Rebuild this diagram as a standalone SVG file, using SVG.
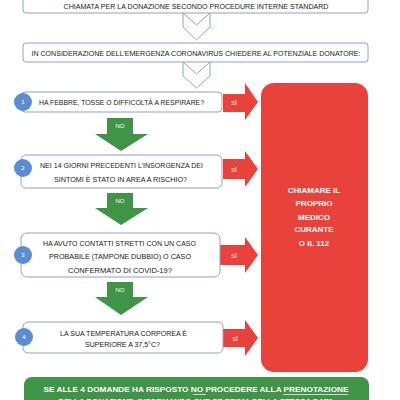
<svg xmlns="http://www.w3.org/2000/svg" width="400" height="400" viewBox="0 0 400 400">
<defs>
<style>
.box{fill:#fff;stroke:#8fa2c4;stroke-width:1}
.chev{fill:#fff;stroke:#8fa2c4;stroke-width:1}
.t{font-family:"Liberation Sans",Arial,sans-serif;font-size:7.5px;fill:#222;text-anchor:middle}
.w{font-family:"Liberation Sans",Arial,sans-serif;font-size:6px;fill:#fff;text-anchor:middle}
.wb{font-family:"Liberation Sans",Arial,sans-serif;font-size:8px;font-weight:bold;fill:#fff;text-anchor:middle}
.num{fill:#5b8ed0}
.red{fill:#e8423a}
.grn{fill:#3f9447}
</style>
</defs>
<rect width="400" height="400" fill="#fff"/>
<g id="connectors">
<polygon class="chev" points="183,13 196.5,25 210,13 210,27 196.5,40 183,27"/>
<polygon class="chev" points="183,62 196.5,74 210,62 210,76 196.5,88 183,76"/>
<polygon class="red" points="223,94 245,94 245,83 258,102 245,120 245,112 223,112"/>
<text class="w" x="234" y="105">SÌ</text>
<polygon class="red" points="223,159 245,159 245,151 258,169 245,187 245,179 223,179"/>
<text class="w" x="234" y="172">SÌ</text>
<polygon class="red" points="220,245 245,245 245,237 258,255 245,273 245,265 220,265"/>
<text class="w" x="234" y="258">SÌ</text>
<polygon class="red" points="223,329 245,329 245,320 258,338 245,356 245,347 223,347"/>
<text class="w" x="235" y="341">SÌ</text>
<polygon class="grn" points="107,118 133,118 133,134 148,134 121,151 95,134 107,134"/>
<text class="w" x="120" y="128">NO</text>
<polygon class="grn" points="107,193 133,193 133,208 148,208 121,225 95,208 107,208"/>
<text class="w" x="120" y="203">NO</text>
<polygon class="grn" points="107,282 133,282 133,297 148,297 121,315 95,297 107,297"/>
<text class="w" x="120" y="292">NO</text>
</g>
<g id="n_top">
<rect class="box" x="23" y="-10" width="345" height="23" rx="3"/>
<text class="t" x="196" y="8.5" textLength="265" lengthAdjust="spacingAndGlyphs">CHIAMATA PER LA DONAZIONE SECONDO PROCEDURE INTERNE STANDARD</text>
</g>
<g id="n_consider">
<rect class="box" x="23" y="43" width="345" height="19" rx="3"/>
<text class="t" x="196" y="55.5" textLength="329" lengthAdjust="spacingAndGlyphs">IN CONSIDERAZIONE DELL’EMERGENZA CORONAVIRUS CHIEDERE AL POTENZIALE DONATORE:</text>
</g>
<g id="q1">
<rect class="box" x="21" y="92" width="201" height="20" rx="4"/>
<circle class="num" cx="23" cy="102" r="9"/>
<text class="w" x="23" y="104">1</text>
<text class="t" x="121.5" y="104.5" textLength="165" lengthAdjust="spacingAndGlyphs">HA FEBBRE, TOSSE O DIFFICOLTÀ A RESPIRARE?</text>
</g>
<g id="q2">
<rect class="box" x="21" y="155" width="201" height="33" rx="5"/>
<circle class="num" cx="23" cy="168" r="9"/>
<text class="w" x="23" y="170">2</text>
<text class="t" x="121.5" y="167.5" textLength="163" lengthAdjust="spacingAndGlyphs">NEI 14 GIORNI PRECEDENTI L’INSORGENZA DEI</text>
<text class="t" x="120.5" y="181.5" textLength="133" lengthAdjust="spacingAndGlyphs">SINTOMI È STATO IN AREA A RISCHIO?</text>
</g>
<g id="q3">
<rect class="box" x="21" y="233" width="199" height="44" rx="6"/>
<circle class="num" cx="23" cy="255" r="9"/>
<text class="w" x="23" y="257">3</text>
<text class="t" x="119.5" y="245.5" textLength="153" lengthAdjust="spacingAndGlyphs">HA AVUTO CONTATTI STRETTI CON UN CASO</text>
<text class="t" x="120" y="259" textLength="142" lengthAdjust="spacingAndGlyphs">PROBABILE (TAMPONE DUBBIO) O CASO</text>
<text class="t" x="120" y="272.5" textLength="104" lengthAdjust="spacingAndGlyphs">CONFERMATO DI COVID-19?</text>
</g>
<g id="q4">
<rect class="box" x="23" y="322" width="200" height="31" rx="5"/>
<circle class="num" cx="24" cy="337" r="9"/>
<text class="w" x="24" y="339">4</text>
<text class="t" x="123.5" y="335.5" textLength="127" lengthAdjust="spacingAndGlyphs">LA SUA TEMPERATURA CORPOREA È</text>
<text class="t" x="122.5" y="347" textLength="75" lengthAdjust="spacingAndGlyphs">SUPERIORE A 37,5°C?</text>
</g>
<g id="n_call">
<rect class="red" x="261" y="83" width="107" height="289" rx="13"/>
<text class="wb" x="314" y="193">CHIAMARE IL</text>
<text class="wb" x="314" y="206">PROPRIO</text>
<text class="wb" x="314" y="220">MEDICO</text>
<text class="wb" x="314" y="232">CURANTE</text>
<text class="wb" x="314" y="246">O IL 112</text>
</g>
<g id="n_ok">
<rect class="grn" x="24" y="377" width="345" height="40" rx="8"/>
<text class="wb" x="196" y="392" textLength="305" lengthAdjust="spacingAndGlyphs">SE ALLE 4 DOMANDE HA RISPOSTO NO PROCEDERE ALLA PRENOTAZIONE</text>
<line x1="193" y1="394.5" x2="206" y2="394.5" stroke="#fff" stroke-width="0.7"/>
<line x1="283" y1="394.5" x2="348" y2="394.5" stroke="#fff" stroke-width="0.7"/>
<text class="wb" x="196" y="404" textLength="275" lengthAdjust="spacingAndGlyphs">DELLA DONAZIONE, INFORMANDO CHE SE PRIMA DELLA STESSA DATA</text>
</g>
</svg>
